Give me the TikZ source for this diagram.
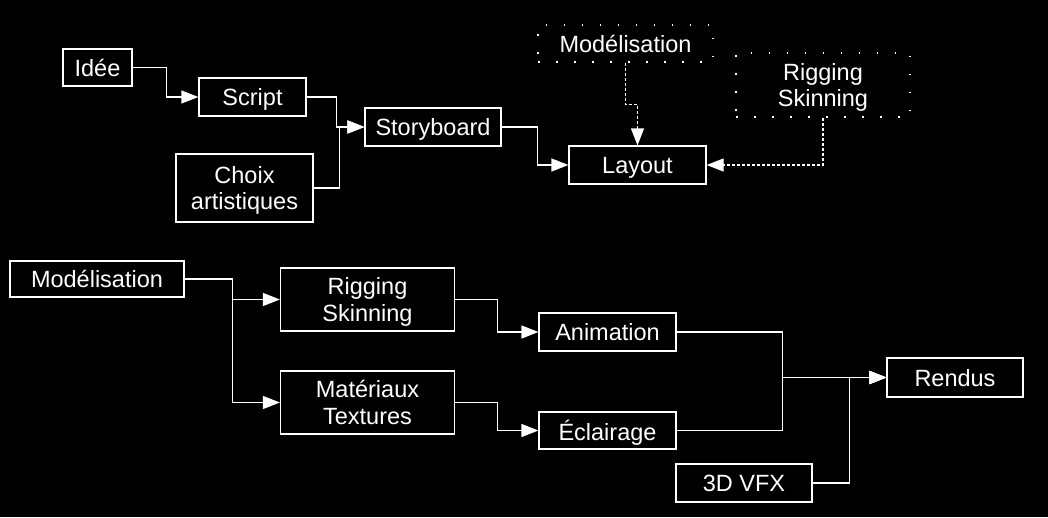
\documentclass[tikz,border=0pt]{standalone}
\usepackage{fontspec}
\setmainfont{Liberation Sans}
\usetikzlibrary{arrows.meta}
\tikzset{
  boite/.style={draw=white, line width=1.2pt, text=white, align=center, inner sep=0pt,
    text depth=0pt, font=\fontsize{23.5}{26.5}\selectfont},
  boitept/.style={boite, dash pattern=on 1.5pt off 16.5pt},
  fleche/.style={draw=white, line width=1.2pt, -{Triangle[length=17pt,width=13pt]}},
  flechept/.style={fleche, dash pattern=on 3pt off 2pt},
}
\begin{document}
\begin{tikzpicture}[x=1pt, y=-1pt]
    \useasboundingbox (0,0) rectangle (1048,517);
    \fill[black] (0,0) rectangle (1048,517);
    % pre-production
    \node[boite, minimum width=69pt, minimum height=37pt] (idee) at (97.5,67.5) {Idée};
    \node[boite, minimum width=107pt, minimum height=38pt] (script) at (252.5,97) {Script};
    \node[boite, minimum width=137pt, minimum height=68pt] (choix) at (244.5,188) {Choix\\artistiques};
    \node[boite, minimum width=136pt, minimum height=38pt] (story) at (433,127) {Storyboard};
    \node[boite, minimum width=137pt, minimum height=38pt] (layout) at (637.5,165) {Layout};
    \node[boitept, minimum width=175pt, minimum height=37pt] (modh) at (625.5,43.5) {Modélisation};
    \node[boitept, minimum width=174pt, minimum height=64pt] (righ) at (823,85) {Rigging\\Skinning};
    \draw[fleche] (idee.east) -- ++(34,0) |- (script.west);
    \draw[fleche] (script.east) -- ++(30,0) |- (story.west);
    \draw[fleche] (choix.east) -- ++(26,0) |- (story.west);
    \draw[fleche] (story.east) -- ++(36,0) |- (layout.west);
    \draw[flechept] (modh.south) -- ++(0,42) -| (layout.north);
    \draw[flechept] (righ.south) |- (layout.east);
    % production
    \node[boite, minimum width=174pt, minimum height=36pt] (modb) at (97,279) {Modélisation};
    \node[boite, minimum width=174pt, minimum height=63pt] (rigb) at (367.5,299.5) {Rigging\\Skinning};
    \node[boite, minimum width=174pt, minimum height=63pt] (mat) at (367.5,402.5) {Matériaux\\Textures};
    \node[boite, minimum width=137pt, minimum height=38pt] (anim) at (607.5,332) {Animation};
    \node[boite, minimum width=137pt, minimum height=37pt] (ecl) at (607.5,430.5) {Éclairage};
    \node[boite, minimum width=136pt, minimum height=39pt] (rendus) at (955,377.5) {Rendus};
    \node[boite, minimum width=136pt, minimum height=38pt] (vfx) at (744,483) {3D VFX};
    \draw[fleche] (modb.east) -- ++(48,0) |- (rigb.west);
    \draw[fleche] (modb.east) -- ++(48,0) |- (mat.west);
    \draw[fleche] (rigb.east) -- ++(42,0) |- (anim.west);
    \draw[fleche] (mat.east) -- ++(42,0) |- (ecl.west);
    \draw[fleche] (anim.east) -- ++(106,0) |- (rendus.west);
    \draw[fleche] (ecl.east) -- ++(106,0) |- (rendus.west);
    \draw[fleche] (vfx.east) -- ++(37,0) |- (rendus.west);
\end{tikzpicture}
\end{document}
